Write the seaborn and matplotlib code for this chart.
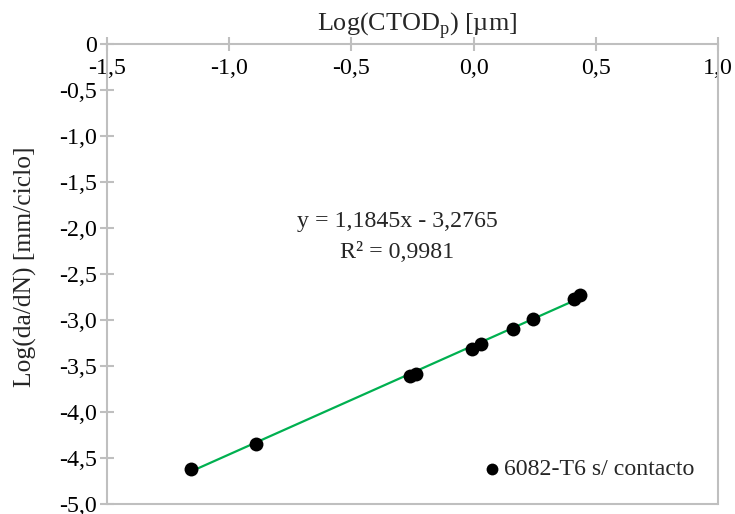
import numpy as np
import pandas as pd
import matplotlib
matplotlib.use("Agg")
import matplotlib.pyplot as plt
import seaborn as sns
from matplotlib.ticker import FuncFormatter

# Data
log_ctod = [-1.157, -0.892, -0.260, -0.236, -0.008, 0.030, 0.162, 0.242, 0.409, 0.434]
log_dadn = [-4.620, -4.345, -3.605, -3.587, -3.315, -3.264, -3.098, -2.992, -2.772, -2.725]
slope = 1.1845
intercept = -3.2765
r2 = 0.9981
series_name = "6082-T6 s/ contacto"
x_ticks = [-1.5, -1.0, -0.5, 0.0, 0.5, 1.0]
y_ticks = [0, -0.5, -1.0, -1.5, -2.0, -2.5, -3.0, -3.5, -4.0, -4.5, -5.0]

sns.set_theme(style="white")
plt.rcParams['font.family'] = ['Liberation Serif', 'DejaVu Serif']
FS = 17.2
GRAY = "#BFBFBF"

df = pd.DataFrame({"x": log_ctod, "y": log_dadn, "serie": series_name})
xs = np.array([min(log_ctod), max(log_ctod)])
trend = pd.DataFrame({"x": xs, "y": slope * xs + intercept})

fig = plt.figure(figsize=(7.35, 5.14), dpi=100)
ax = fig.add_axes([107/735, 10/514, (718-107)/735, (504-44)/514])

sns.lineplot(data=trend, x="x", y="y", ax=ax, color="#00B050", lw=1.6, zorder=2, legend=False)
sns.scatterplot(data=df, x="x", y="y", ax=ax, color="black", s=100, edgecolor="black",
                linewidth=0, zorder=3, label=series_name)

ax.set_xlim(-1.5, 1.0)
ax.set_ylim(-5.0, 0.0)
ax.set_xticks(x_ticks)
ax.set_yticks(y_ticks)

def fmt(v, pos=None):
    if abs(v) < 1e-9:
        return "0"
    return f"{v:.1f}".replace(".", ",")

def fmtx(v, pos=None):
    return f"{v:.1f}".replace(".", ",")

ax.xaxis.set_major_formatter(FuncFormatter(fmtx))
ax.yaxis.set_major_formatter(FuncFormatter(fmt))

# x axis crosses at y=0 (top of the plot)
ax.spines['bottom'].set_position(('data', 0))
for s in ax.spines.values():
    s.set_color(GRAY)
    s.set_linewidth(1.5)
ax.spines['top'].set_visible(False)
ax.axhline(-5.0, color=GRAY, lw=1.5, clip_on=False, zorder=1)

ax.tick_params(axis='both', which='major', direction='inout', length=10, width=1.5,
               color=GRAY, labelsize=FS, labelcolor='black')
ax.tick_params(axis='x', pad=5, bottom=True, top=False)
ax.tick_params(axis='y', pad=2, left=True, right=False)

ax.set_xlabel("Log(CTOD$_\\mathregular{p}$) [µm]", fontsize=18.8)
ax.xaxis.set_label_position('top')
ax.xaxis.label.set_va('baseline')
ax.xaxis.set_label_coords(0.507, (504 - 31) / 460)

ax.set_ylabel("Log(da/dN) [mm/ciclo]", fontsize=18.4)
ax.yaxis.set_label_coords((37 - 107) / 611, (504 - 267) / 460)

ax.text(397.5/735, (514-222)/514, "y = 1,1845x - 3,2765", transform=fig.transFigure,
        ha='center', va='center', fontsize=FS)
ax.text(397.5/735, (514-253)/514, "R² = 0,9981", transform=fig.transFigure,
        ha='center', va='center', fontsize=FS)

leg = ax.legend(loc='lower right', frameon=False, fontsize=FS, handletextpad=0.05,
                markerscale=0.85, borderaxespad=0.6, handlelength=0.9)

fig.savefig("out.png", dpi=100)
